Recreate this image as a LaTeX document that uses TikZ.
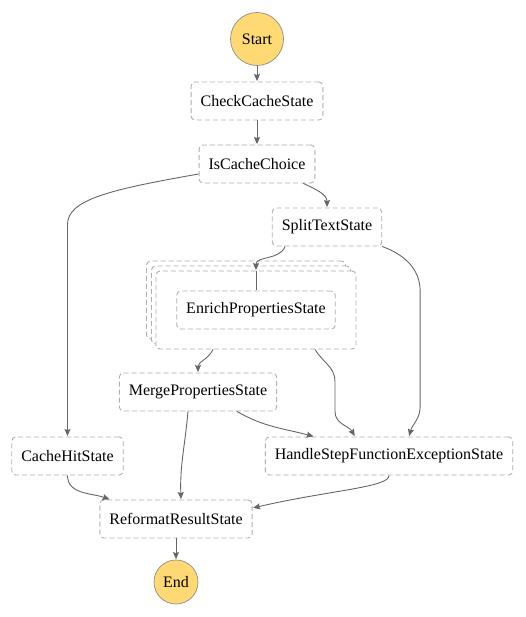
\documentclass[tikz,border=0pt]{standalone}
\usepackage{fontspec}
\setmainfont{Liberation Serif}
\usepackage{tikz}
\usetikzlibrary{arrows,arrows.meta,automata,positioning}
\definecolor{edgegray}{HTML}{666666}
\definecolor{boxgray}{HTML}{AEAEAE}
\definecolor{circgray}{HTML}{8C8C8C}
\definecolor{startfill}{HTML}{FFD973}

\begin{document}
\begin{tikzpicture}[->,>={Stealth[length=7pt,width=6pt,inset=1pt]},shorten >=0.5pt,auto,node distance=63pt,
                    color=edgegray,line width=0.9pt,font=\fontsize{16pt}{19pt}\selectfont]
  \tikzstyle{every state}=[fill=startfill,draw=circgray,text=black,line width=0.7pt]
  \tikzstyle{task}=[rectangle,rounded corners=4pt,draw=boxgray,dash pattern=on 5pt off 3pt,
                    fill=white,text=black,inner xsep=9.5pt,minimum height=38pt,line width=0.9pt]
  \tikzstyle{mapbox}=[task,minimum width=199pt,minimum height=78pt]

  \useasboundingbox (0,0) rectangle (526pt,-617pt);

  \node[state,minimum size=53pt] (S) at (257pt,-39pt) {Start};
  \node[task] (CC) [node distance=62pt,below of=S]                {CheckCacheState};
  \node[task] (IC) [below of=CC]                                  {IsCacheChoice};
  \node[task] (ST) [below of=IC,xshift=70pt]                      {SplitTextState};
  \node[coordinate] (Mc) [node distance=83pt,below of=ST,xshift=-71pt] {};
  \foreach \d in {10,5}
    \node[mapbox] at ([xshift=-\d pt,yshift=\d pt]Mc) {};
  \node[mapbox,minimum width=200pt] (M) at (Mc) {};
  \node[task] (EP) at (M)                                         {EnrichPropertiesState};
  \node[task] (MP) [node distance=82pt,below of=M,xshift=-58pt]   {MergePropertiesState};
  \node[task] (CH) [node distance=64pt,below of=MP,xshift=-130.5pt] {CacheHitState};
  \node[task] (HE) [node distance=64pt,below of=MP,xshift=191pt]  {HandleStepFunctionExceptionState};
  \node[task] (RR) [node distance=127pt,below of=MP,xshift=-22pt] {ReformatResultState};
  \node[state,minimum size=44pt] (E) [below of=RR]                {End};

  \path (S)  edge (CC)
        (CC) edge (IC)
        ([xshift=-12pt]IC.south east) edge [out=-25,in=90] (ST.north)
        ([xshift=-42pt]ST.south) edge [out=-110,in=90] (M.north)
        ([xshift=-43pt]M.south) edge [out=-115,in=90] (MP.north)
        ([xshift=39pt]MP.south) edge [out=-30,in=165] ([xshift=-75pt]HE.north)
        ([xshift=-10pt]MP.south) edge [out=-95,in=92] ([xshift=5pt]RR.north)
        (CH.south) edge [out=-90,in=160] ([xshift=-66pt]RR.north)
        (HE.south) edge [out=-90,in=13,out distance=12pt,in distance=80pt] ([yshift=11pt]RR.east)
        (RR) edge (E);

  \draw[-] (M.north) -- (EP.north);
  \draw ([yshift=-10pt]IC.west) to[out=190,in=90,out distance=90pt,in distance=25pt]
        ([yshift=212pt]CH.north) -- (CH);
  \draw (ST.south east) to[out=-20,in=90] ++(38pt,-45pt) -- ++(0,-115pt)
        to[out=-90,in=75] ([xshift=20pt]HE.north);
  \draw ([xshift=59pt]M.south) to[out=-60,in=90] ++(20pt,-32pt) -- ++(0,-30pt)
        to[out=-90,in=120] ([xshift=-34pt]HE.north);
\end{tikzpicture}
\end{document}
